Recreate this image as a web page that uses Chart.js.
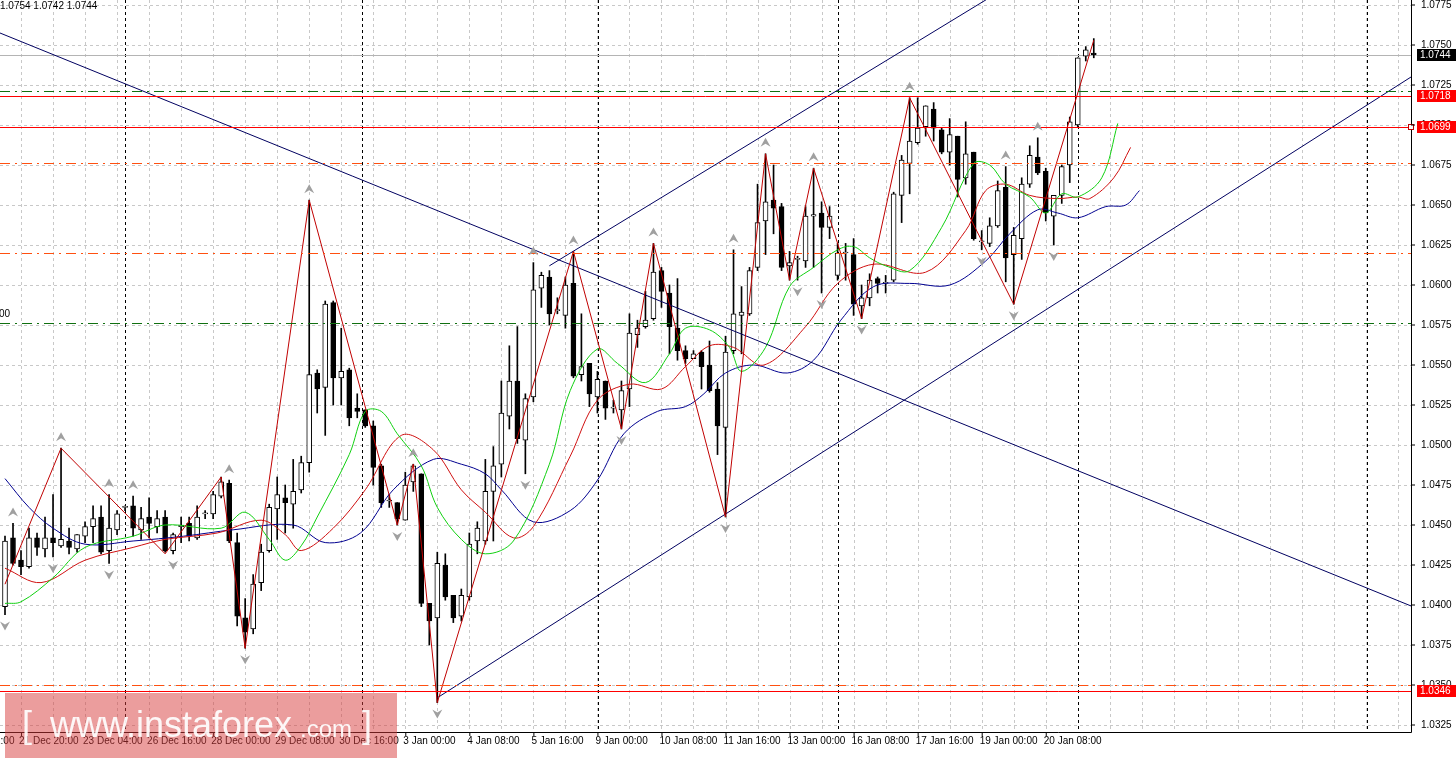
<!DOCTYPE html>
<html><head><meta charset="utf-8">
<script src="https://cdn.jsdelivr.net/npm/chart.js@4.4.1/dist/chart.umd.min.js"></script>
<style>html,body{margin:0;padding:0;background:#fff;overflow:hidden}canvas{display:block}</style>
</head><body><canvas id="c" width="1456" height="763"></canvas>
<script>
const opens=[1.0399,1.0442,1.0428,1.0424,1.0442,1.0435,1.0442,1.0437,1.0440,1.0435,
1.0443,1.0449,1.0455,1.0434,1.0447,1.0461,1.0462,1.0447,1.0455,1.0449,
1.0455,1.0434,1.0449,1.0451,1.0442,1.0457,1.0457,1.0468,1.0476,1.0439,
1.0392,1.0385,1.0414,1.0434,1.0460,1.0467,1.0463,1.0472,1.0489,1.0545,
1.0536,1.0589,1.0542,1.0547,1.0523,1.0522,1.0512,1.0487,1.0465,1.0464,
1.0453,1.0477,1.0482,1.0401,1.0392,1.0425,1.0406,1.0393,1.0405,1.0440,
1.0440,1.0471,1.0488,1.0518,1.0540,1.0503,1.0530,1.0598,1.0605,1.0584,
1.0581,1.0601,1.0544,1.0551,1.0530,1.0540,1.0523,1.0522,1.0535,1.0569,
1.0574,1.0579,1.0609,1.0595,1.0573,1.0559,1.0554,1.0558,1.0550,1.0535,
1.0511,1.0559,1.0581,1.0582,1.0611,1.0640,1.0653,1.0649,1.0612,1.0616,
1.0615,1.0643,1.0645,1.0636,1.0606,1.0620,1.0619,1.0587,1.0592,1.0604,
1.0601,1.0603,1.0656,1.0676,1.0689,1.0699,1.0710,1.0697,1.0683,1.0693,
1.0667,1.0683,1.0627,1.0626,1.0637,1.0661,1.0619,1.0629,1.0663,1.0680,
1.0671,1.0643,1.0656,1.0675,1.0700,1.0743,1.0745];
const highs=[1.0443,1.0451,1.0434,1.0448,1.0445,1.0455,1.0469,1.0498,1.0448,1.0444,
1.0452,1.0462,1.0462,1.0469,1.0459,1.0462,1.0468,1.0461,1.0467,1.0459,
1.0459,1.0445,1.0455,1.0455,1.0462,1.0459,1.0471,1.0480,1.0478,1.0445,
1.0404,1.0419,1.0438,1.0463,1.0480,1.0475,1.0491,1.0493,1.0653,1.0547,
1.0590,1.0590,1.0573,1.0548,1.0532,1.0522,1.0515,1.0488,1.0469,1.0464,
1.0483,1.0488,1.0482,1.0401,1.0433,1.0432,1.0406,1.0410,1.0445,1.0452,
1.0491,1.0499,1.0540,1.0562,1.0574,1.0532,1.0614,1.0608,1.0609,1.0592,
1.0605,1.0621,1.0582,1.0551,1.0546,1.0540,1.0528,1.0540,1.0582,1.0578,
1.0596,1.0626,1.0611,1.0600,1.0604,1.0562,1.0559,1.0559,1.0565,1.0539,
1.0568,1.0622,1.0599,1.0611,1.0663,1.0682,1.0675,1.0651,1.0621,1.0618,
1.0649,1.0673,1.0652,1.0649,1.0626,1.0626,1.0629,1.0600,1.0607,1.0605,
1.0606,1.0658,1.0681,1.0717,1.0717,1.0712,1.0714,1.0698,1.0704,1.0693,
1.0702,1.0683,1.0634,1.0642,1.0665,1.0674,1.0636,1.0667,1.0687,1.0692,
1.0673,1.0656,1.0675,1.0705,1.0742,1.0749,1.0754];
const lows=[1.0394,1.0425,1.0419,1.0423,1.0431,1.0430,1.0430,1.0436,1.0432,1.0433,
1.0439,1.0439,1.0432,1.0426,1.0444,1.0459,1.0443,1.0441,1.0442,1.0445,
1.0433,1.0432,1.0439,1.0440,1.0441,1.0454,1.0454,1.0467,1.0439,1.0387,
1.0373,1.0382,1.0409,1.0433,1.0441,1.0445,1.0448,1.0470,1.0483,1.0520,
1.0506,1.0525,1.0525,1.0512,1.0517,1.0511,1.0475,1.0461,1.0461,1.0450,
1.0453,1.0471,1.0399,1.0375,1.0339,1.0403,1.0389,1.0390,1.0403,1.0432,
1.0438,1.0440,1.0480,1.0510,1.0501,1.0482,1.0527,1.0586,1.0575,1.0582,
1.0573,1.0542,1.0540,1.0524,1.0520,1.0516,1.0520,1.0510,1.0524,1.0561,
1.0573,1.0578,1.0586,1.0557,1.0553,1.0551,1.0554,1.0535,1.0533,1.0494,
1.0455,1.0557,1.0557,1.0581,1.0609,1.0619,1.0632,1.0609,1.0603,1.0603,
1.0611,1.0611,1.0595,1.0629,1.0603,1.0603,1.0581,1.0579,1.0587,1.0595,
1.0595,1.0602,1.0639,1.0657,1.0688,1.0693,1.0690,1.0682,1.0675,1.0655,
1.0663,1.0628,1.0622,1.0624,1.0636,1.0602,1.0588,1.0616,1.0661,1.0669,
1.0640,1.0625,1.0651,1.0664,1.0699,1.0740,1.0742];
const closes=[1.0440,1.0426,1.0424,1.0442,1.0436,1.0442,1.0439,1.0441,1.0436,1.0444,
1.0449,1.0454,1.0433,1.0448,1.0457,1.0461,1.0448,1.0454,1.0451,1.0454,
1.0434,1.0444,1.0450,1.0443,1.0455,1.0457,1.0469,1.0477,1.0440,1.0393,
1.0383,1.0413,1.0433,1.0461,1.0469,1.0464,1.0471,1.0489,1.0544,1.0535,
1.0588,1.0542,1.0546,1.0517,1.0521,1.0512,1.0486,1.0464,1.0465,1.0454,
1.0475,1.0487,1.0401,1.0390,1.0426,1.0405,1.0392,1.0406,1.0438,1.0448,
1.0471,1.0487,1.0520,1.0540,1.0504,1.0529,1.0597,1.0606,1.0582,1.0584,
1.0600,1.0543,1.0549,1.0532,1.0541,1.0523,1.0523,1.0534,1.0570,1.0573,
1.0578,1.0608,1.0596,1.0574,1.0559,1.0554,1.0557,1.0549,1.0534,1.0512,
1.0558,1.0582,1.0583,1.0609,1.0639,1.0652,1.0648,1.0611,1.0614,1.0616,
1.0643,1.0644,1.0636,1.0643,1.0620,1.0620,1.0588,1.0592,1.0603,1.0601,
1.0601,1.0657,1.0678,1.0690,1.0698,1.0712,1.0698,1.0683,1.0694,1.0666,
1.0682,1.0629,1.0627,1.0637,1.0659,1.0617,1.0631,1.0663,1.0681,1.0670,
1.0645,1.0656,1.0674,1.0702,1.0742,1.0747,1.0744];

const maGreen=[[0,1.0401],[2,1.0402],[6,1.0417],[10,1.0436],[16,1.0443],[20,1.0450],[27,1.0448],[30,1.0458],[33,1.0441],[35,1.0428],[37,1.0437],[39,1.0455],[43,1.0494],[45,1.0521],[47,1.0521],[49,1.0507],[52,1.0487],[54,1.0461],[57,1.0441],[60,1.0432],[63.5,1.0440],[68,1.0488],[70.6,1.0534],[74,1.0560],[76.5,1.0551],[80,1.0539],[83,1.0557],[85,1.0573],[88,1.0572],[90.5,1.0561],[92,1.0546],[95,1.0561],[98,1.0599],[101,1.0611],[104,1.0622],[106,1.0624],[108,1.0617],[110,1.0612],[113,1.0609],[117,1.0636],[121,1.0676],[123,1.0675],[125,1.0663],[128,1.0655],[130,1.0645],[132,1.0657],[134,1.0655],[137,1.0667],[139,1.0701]];
const maRed=[[0,1.0423],[4.5,1.0414],[10,1.0428],[16,1.0436],[20,1.0441],[26.5,1.0445],[32,1.0453],[35,1.0444],[37,1.0434],[41,1.0448],[45,1.0472],[49.5,1.0506],[53.5,1.0497],[57,1.0472],[60,1.0458],[63.5,1.0442],[66,1.0449],[70.6,1.0493],[74,1.0528],[78,1.0538],[82,1.0535],[85,1.0549],[88,1.0562],[91,1.0561],[94.8,1.0550],[100,1.0574],[104,1.0601],[108.5,1.0613],[115,1.0608],[120,1.0634],[122.5,1.0659],[125,1.0663],[128,1.0656],[131.5,1.0654],[134,1.0655],[135.5,1.0654],[138.5,1.0667],[140.6,1.0686]];
const maBlue=[[0,1.0479],[3,1.0461],[6,1.0448],[10,1.0438],[16,1.0440],[22.3,1.0443],[28.5,1.0447],[36,1.0450],[40,1.0439],[44.4,1.0445],[48.5,1.0472],[53.5,1.0491],[57,1.0488],[60,1.0482],[62,1.0472],[66,1.0452],[70.6,1.0459],[74,1.0478],[77.3,1.0507],[81.5,1.0521],[85,1.0524],[87.3,1.0532],[90,1.0545],[93.5,1.0550],[97.7,1.0545],[101,1.0553],[104.4,1.0578],[108.5,1.0599],[113,1.0601],[118,1.0600],[122.5,1.0615],[125.5,1.0632],[129,1.0647],[131.5,1.0645],[134,1.0642],[137.5,1.0649],[140,1.0650],[141.7,1.0659]];
const zigzag=[[0,1.0413],[7,1.0498],[20,1.0432],[27,1.0480],[30,1.0373],[38,1.0653],[49,1.0450],[51,1.0488],[54,1.0339],[71,1.0621],[77,1.0510],[81,1.0626],[90,1.0455],[95,1.0682],[98,1.0603],[101,1.0673],[107,1.0579],[113,1.0717],[126,1.0588],[136,1.0753]];
const trendDown=[[-0.625,1.07575],[175.625,1.03994]];
const trendUpper=[[68,1.0612],[130,1.0801]];
const trendLower=[[54,1.0342],[175.625,1.0730]];
const fractalUp=[1,7,13,16,28,38,51,66,71,81,91,95,101,113,125,129];
const fractalDown=[0,6,13,21,30,49,54,65,77,90,99,102,107,122,126,131];
const levelsSolid=[1.0718,1.0699,1.0346];
const levelsDashRed=[1.0676,1.0620,1.0350];
const levelsDashGreen=[1.0721,1.0576];
const priceTicks=[1.0775,1.0750,1.0725,1.0700,1.0675,1.0650,1.0625,1.0600,1.0575,1.0550,1.0525,1.0500,1.0475,1.0450,1.0425,1.0400,1.0375,1.0350,1.0325];
const dateIdx=[-6,2,10,18,26,34,42,50,58,66,74,82,90,98,106,114,122,130];
const dateLabels=["20 Dec 12:00","21 Dec 20:00","23 Dec 04:00","26 Dec 16:00","28 Dec 00:00","29 Dec 08:00","30 Dec 16:00","3 Jan 00:00","4 Jan 08:00","5 Jan 16:00","9 Jan 00:00","10 Jan 08:00","11 Jan 16:00","13 Jan 00:00","16 Jan 08:00","17 Jan 16:00","19 Jan 00:00","20 Jan 08:00"];
const separators=[15,44.6,74.1,104,134,170.1];
const rightTags=[[1.0744,"1.0744","#000000"],[1.0718,"1.0718","#ff0000"],[1.0699,"1.0699","#ff0000"],[1.0346,"1.0346","#ff0000"]];

const idx=opens.map((_,i)=>i);
const pts=a=>a.map(p=>({x:p[0],y:p[1]}));
const FONT='10px "Liberation Sans", Arial, sans-serif';

function hline(c,a,y,color,dash){c.strokeStyle=color;c.lineWidth=1;c.setLineDash(dash);c.beginPath();c.moveTo(a.left,y);c.lineTo(a.right,y);c.stroke();}

const overlay={id:'overlay',
beforeDatasetsDraw(ch){const c=ch.ctx,a=ch.chartArea,X=ch.scales.x,Y=ch.scales.y;c.save();
 c.beginPath();c.rect(a.left,a.top,a.right-a.left,a.bottom-a.top);c.clip();
 c.strokeStyle='#c8c8c8';c.lineWidth=1;c.setLineDash([3,3]);
 for(let i=2;i<176;i+=4){const x=Math.round(X.getPixelForValue(i))+0.5;c.beginPath();c.moveTo(x,a.top);c.lineTo(x,a.bottom);c.stroke();}
 priceTicks.forEach(p=>{const y=Math.round(Y.getPixelForValue(p))+0.5;c.beginPath();c.moveTo(a.left,y);c.lineTo(a.right,y);c.stroke();});
 c.strokeStyle='#000';c.setLineDash([3,3]);
 separators.forEach(s=>{const x=Math.round(X.getPixelForValue(s))+0.5;c.beginPath();c.moveTo(x,a.top);c.lineTo(x,a.bottom);c.stroke();});
 hline(c,a,Math.round(Y.getPixelForValue(1.0744))+0.5,'#b4b4b4',[]);
 c.restore();},
afterDatasetsDraw(ch){const c=ch.ctx,a=ch.chartArea,X=ch.scales.x,Y=ch.scales.y;c.save();
 levelsDashRed.forEach(p=>hline(c,a,Math.round(Y.getPixelForValue(p))+0.5,'#ff5010',[10,5,2,5]));
 levelsDashGreen.forEach(p=>hline(c,a,Math.round(Y.getPixelForValue(p))+0.5,'#107010',[10,5,2,5]));
 levelsSolid.forEach(p=>hline(c,a,Math.round(Y.getPixelForValue(p))+0.5,'#ff0000',[]));
 c.setLineDash([]);
 c.fillStyle='#a0a0a0';
 const arrow=(x,y,up)=>{c.beginPath();if(up){c.moveTo(x,y-5);c.lineTo(x+5,y+4);c.lineTo(x,y+1);c.lineTo(x-5,y+4);}else{c.moveTo(x,y+5);c.lineTo(x+5,y-4);c.lineTo(x,y-1);c.lineTo(x-5,y-4);}c.closePath();c.fill();};
 fractalUp.forEach(i=>arrow(X.getPixelForValue(i),Y.getPixelForValue(highs[i])-11,true));
 fractalDown.forEach(i=>arrow(X.getPixelForValue(i),Y.getPixelForValue(lows[i])+11,false));
 c.strokeStyle='#000';c.lineWidth=1;c.beginPath();c.moveTo(a.right+0.5,0);c.lineTo(a.right+0.5,a.bottom+0.5);c.lineTo(0,a.bottom+0.5);c.stroke();
 c.strokeStyle='#c00000';c.fillStyle='#fff';const yq=Math.round(Y.getPixelForValue(1.0699));c.fillRect(a.right-3,yq-3,6,6);c.strokeRect(a.right-2.5,yq-2.5,5,5);
 c.font=FONT;c.fillStyle='#000';c.strokeStyle='#000';c.textBaseline='middle';c.textAlign='left';
 priceTicks.forEach(p=>{const y=Y.getPixelForValue(p);c.beginPath();c.moveTo(a.right,y);c.lineTo(a.right+4,y);c.stroke();c.fillText(p.toFixed(4),a.right+10,y);});
 rightTags.forEach(t=>{const y=Math.round(Y.getPixelForValue(t[0]));c.fillStyle=t[2];c.fillRect(a.right+6,y-6,39,12);c.fillStyle='#fff';c.fillText(t[1],a.right+9,y+0.5);});
 c.fillStyle='#000';c.textBaseline='top';
 dateIdx.forEach((d,k)=>{const x=X.getPixelForValue(d);c.beginPath();c.moveTo(x+0.5,a.bottom);c.lineTo(x+0.5,a.bottom+4);c.stroke();c.fillText(dateLabels[k],x-2,a.bottom+4);});
 c.fillText('1.0754 1.0742 1.0744',0,1);
 c.textBaseline='middle';c.fillText('00',-1,Y.getPixelForValue(1.0582));
 c.fillStyle='rgba(215,60,60,0.5)';c.fillRect(5,693,392,65);
 c.fillStyle='rgba(255,255,255,0.92)';c.textBaseline='alphabetic';
 c.font='36px "Liberation Sans", Arial, sans-serif';c.fillText('[',22,737);c.fillText('www.instaforex',50,737);
 c.font='24px "Liberation Sans", Arial, sans-serif';c.fillText('.com',300,737);
 c.font='36px "Liberation Sans", Arial, sans-serif';c.fillText(']',362,737);
 c.restore();}};

const lineDs=(data,color,order,extra={})=>Object.assign({type:'line',data:pts(data),borderColor:color,borderWidth:1,pointRadius:0,fill:false,order,tension:0.35,spanGaps:true},extra);

new Chart(document.getElementById('c'),{
 type:'bar',
 data:{datasets:[
  lineDs(zigzag,'#c00000',0,{tension:0}),
  lineDs(trendDown,'#000060',1,{tension:0}),
  lineDs(trendUpper,'#000060',1,{tension:0}),
  lineDs(trendLower,'#000060',1,{tension:0}),
  lineDs(maGreen,'#10d010',2),
  lineDs(maRed,'#d01010',2),
  lineDs(maBlue,'#000090',2),
  {type:'bar',data:idx.map(i=>({x:i,y:[Math.min(opens[i],closes[i]),Math.max(opens[i],closes[i])]})),
   backgroundColor:idx.map(i=>closes[i]>=opens[i]?'#fff':'#000'),borderColor:'#000',borderWidth:1,borderSkipped:false,barThickness:5,grouped:false,order:3,minBarLength:1},
  {type:'bar',data:idx.map(i=>({x:i,y:[lows[i],highs[i]]})),backgroundColor:'#000',borderWidth:0,barThickness:1,grouped:false,order:4}
 ]},
 options:{responsive:false,animation:false,devicePixelRatio:1,
  layout:{padding:{left:0,top:0,right:45,bottom:31}},
  plugins:{legend:{display:false},tooltip:{enabled:false}},
  scales:{
   x:{type:'linear',min:-0.625,max:175.625,display:false,offset:false},
   y:{type:'linear',min:1.0320625,max:1.0778125,display:false}
  }},
 plugins:[overlay]
});
</script></body></html>
